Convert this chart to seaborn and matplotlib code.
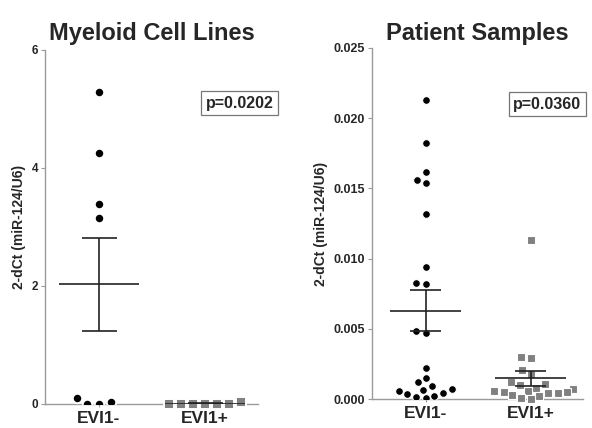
import numpy as np
import pandas as pd
import matplotlib
matplotlib.use("Agg")
import matplotlib.pyplot as plt
import seaborn as sns

sns.set_style("ticks")
plt.rcParams['font.family'] = ['Liberation Sans', 'DejaVu Sans']

categories = ["EVI1-", "EVI1+"]

cell_neg = [5.28, 4.26, 3.39, 3.16, 0.04, 0.0, 0.0, 0.10]
cell_pos = [0.04, 0.0, 0.0, 0.0, 0.0, 0.0, 0.0]

pat_neg = [0.0213, 0.0182, 0.0162, 0.0156, 0.0154, 0.0132,
           0.00941, 0.0082, 0.00829, 0.00483, 0.00469, 0.00218,
           0.00118, 0.00147, 0.0009, 0.00071, 0.00066, 0.00045,
           0.00024, 0.00033, 0.00057, 0.00005, 0.00012]
pat_pos = [0.0113, 0.0030, 0.0029, 0.0021, 0.0018, 0.0012, 0.0011,
           0.0010, 0.0008, 0.0007, 0.0006, 0.0006, 0.0005, 0.0005,
           0.0004, 0.0004, 0.0003, 0.0002, 0.0001, 0.0000]

titles = ["Myeloid Cell Lines", "Patient Samples"]
pvals = ["p=0.0202", "p=0.0360"]
ylabel = "2-dCt (miR-124/U6)"

fig = plt.figure(figsize=(5.92, 4.28), dpi=100)
ax1 = fig.add_axes([45/592, 1-404/428, 213/592, 354/428])
ax2 = fig.add_axes([372/592, 1-399/428, 211/592, 351/428])

spine_c = "#9a9a9a"

def panel(ax, neg, pos, title, pval, ylim, yticks, yfmt, msize, gap, mean_hw, cap_hw,
          tx, ty, ytfs, tpad):
    dneg = pd.DataFrame({"group": "EVI1-", "value": neg})
    dpos = pd.DataFrame({"group": "EVI1+", "value": pos})
    sns.swarmplot(data=dneg, x="group", y="value", order=categories, ax=ax,
                  color="black", marker="o", size=msize + gap, linewidth=gap,
                  edgecolor="white", zorder=3)
    ax.collections[-1].set_clip_on(False)
    sns.swarmplot(data=dpos, x="group", y="value", order=categories, ax=ax,
                  color="#808080", marker="s", size=msize + gap, linewidth=gap,
                  edgecolor="white", zorder=3)
    ax.collections[-1].set_clip_on(False)
    for i, vals in enumerate([neg, pos]):
        v = np.asarray(vals)
        m = v.mean()
        se = v.std(ddof=1) / np.sqrt(len(v))
        ax.hlines(m, i - mean_hw, i + mean_hw, color="#222222", lw=1.2, zorder=5)
        ax.hlines([m - se, m + se], i - cap_hw, i + cap_hw, color="#222222", lw=1.2, zorder=5)
        ax.vlines(i, m - se, m + se, color="#222222", lw=1.2, zorder=5)
    ax.set_xlim(-0.51, 1.5)
    ax.set_ylim(*ylim)
    ax.set_yticks(yticks)
    ax.set_yticklabels([yfmt.format(t) for t in yticks], fontsize=ytfs, fontweight="bold")
    ax.set_xticks([0, 1])
    ax.set_xticklabels(categories, fontsize=12.5, fontweight="bold")
    ax.set_xlabel("")
    ax.set_ylabel(ylabel, fontsize=10, fontweight="bold", labelpad=4)
    ax.tick_params(axis="y", length=3, width=0.8, color=spine_c, pad=2)
    ax.tick_params(axis="x", length=2, width=0.8, color=spine_c, pad=3)
    for s in ["top", "right"]:
        ax.spines[s].set_visible(False)
    for s in ["left", "bottom"]:
        ax.spines[s].set_color(spine_c)
        ax.spines[s].set_linewidth(1.0)
        ax.spines[s].set_zorder(2)
    ax.set_title(title, fontsize=17, fontweight="bold", pad=tpad)
    ax.text(tx, ty, pval, transform=ax.transAxes, fontsize=11.5, fontweight="bold",
            ha="left", va="center",
            bbox=dict(boxstyle="square,pad=0.3", fc="white", ec="#777777", lw=0.9),
            clip_on=False)

panel(ax1, cell_neg, cell_pos, titles[0], pvals[0], (0, 6), [0, 2, 4, 6], "{:g}",
      5.4, 1.4, 0.38, 0.165, 0.755, 0.85, 8.5, 7)
panel(ax2, pat_neg, pat_pos, titles[1], pvals[1], (0, 0.025),
      [0, 0.005, 0.010, 0.015, 0.020, 0.025], "{:.3f}", 4.8, 0.8, 0.34, 0.15,
      0.67, 0.84, 9, 6)

fig.savefig("out.png", dpi=100)
